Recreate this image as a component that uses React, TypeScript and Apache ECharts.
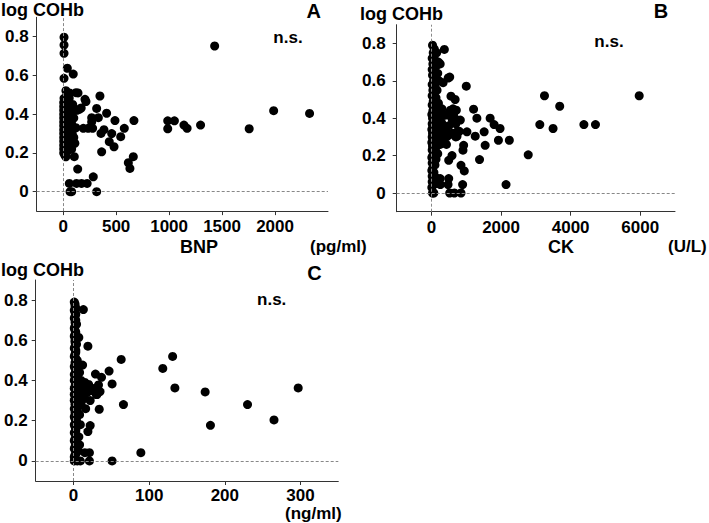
import React, { useEffect, useRef } from "react";
import * as echarts from "echarts";

// Panel A: BNP (pg/ml) vs log COHb
const bnpData: number[][] = [
  [8, 0.797], [8, 0.757], [8, 0.714], [39, 0.637], [95, 0.607], [8, 0.585],
  [26, 0.521], [60, 0.51], [121, 0.511], [140, 0.51], [8, 0.482], [57, 0.482],
  [206, 0.477], [215, 0.465], [347, 0.494], [152, 0.425], [170, 0.432], [316, 0.43],
  [410, 0.405], [269, 0.382], [332, 0.382], [489, 0.367], [668, 0.367], [269, 0.36],
  [190, 0.327], [236, 0.327], [278, 0.327], [357, 0.301], [458, 0.3], [385, 0.32],
  [577, 0.327], [435, 0.258], [480, 0.232], [543, 0.284], [363, 0.206], [662, 0.181],
  [615, 0.15], [630, 0.12], [105, 0.181], [137, 0.117], [284, 0.077], [58, 0.043],
  [126, 0.043], [173, 0.043], [226, 0.043], [80, 0], [65, 0], [316, 0],
  [5, 0.46], [5, 0.44], [5, 0.42], [5, 0.4], [5, 0.38], [5, 0.36], [5, 0.34],
  [5, 0.32], [5, 0.3], [5, 0.28], [5, 0.26], [5, 0.24], [5, 0.22], [5, 0.2],
  [25, 0.45], [40, 0.43], [20, 0.41], [55, 0.4], [85, 0.39], [30, 0.38],
  [60, 0.37], [100, 0.38], [20, 0.36], [45, 0.35], [80, 0.35], [30, 0.34],
  [60, 0.33], [120, 0.33], [20, 0.32], [45, 0.31], [85, 0.3], [25, 0.3],
  [60, 0.29], [100, 0.28], [20, 0.28], [40, 0.27], [75, 0.26], [30, 0.25],
  [110, 0.25], [55, 0.24], [20, 0.23], [80, 0.22], [40, 0.21], [15, 0.19],
  [25, 0.18], [70, 0.23], [110, 0.42], [130, 0.42], [90, 0.45],
  [1430, 0.752], [987, 0.366], [1050, 0.366], [987, 0.325], [1140, 0.344],
  [1170, 0.327], [1297, 0.344], [1756, 0.325], [1987, 0.418], [2326, 0.404],
];

// Panel B: CK (U/L) vs log COHb
const ckData: number[][] = [
  [30, 0.79], [80, 0.77], [50, 0.75], [150, 0.75], [370, 0.768], [20, 0.72],
  [100, 0.71], [200, 0.7], [40, 0.69], [140, 0.68], [250, 0.69], [20, 0.66],
  [90, 0.65], [180, 0.64], [30, 0.63], [120, 0.62], [524, 0.62], [480, 0.615],
  [60, 0.6], [220, 0.6], [333, 0.59], [20, 0.58], [100, 0.57], [1000, 0.571],
  [40, 0.55], [160, 0.55], [80, 0.53], [20, 0.52], [560, 0.518], [130, 0.51],
  [680, 0.5], [50, 0.49], [200, 0.48], [20, 0.47], [100, 0.46], [620, 0.45],
  [160, 0.45], [1210, 0.448], [40, 0.44], [714, 0.443], [543, 0.443], [250, 0.43],
  [400, 0.416], [10, 0.42], [80, 0.41], [638, 0.407], [140, 0.4], [30, 0.4],
  [1305, 0.4], [1686, 0.4], [200, 0.39], [829, 0.39], [60, 0.38], [20, 0.37],
  [110, 0.37], [300, 0.37], [1800, 0.366], [40, 0.36], [170, 0.35], [1971, 0.345],
  [10, 0.34], [80, 0.34], [240, 0.33], [733, 0.327], [1019, 0.327], [1514, 0.327],
  [30, 0.32], [130, 0.32], [60, 0.31], [733, 0.304], [1257, 0.304], [430, 0.3],
  [20, 0.3], [190, 0.3], [100, 0.29], [1924, 0.282], [2238, 0.282], [40, 0.28],
  [10, 0.27], [150, 0.27], [70, 0.26], [430, 0.26], [924, 0.255], [1543, 0.255],
  [250, 0.26], [30, 0.25], [120, 0.24], [905, 0.229], [20, 0.23], [80, 0.22],
  [180, 0.21], [2781, 0.204], [590, 0.2], [40, 0.2], [10, 0.19], [1381, 0.179],
  [495, 0.175], [130, 0.18], [60, 0.17], [20, 0.16], [100, 0.15], [848, 0.148],
  [30, 0.13], [10, 0.12], [943, 0.118], [70, 0.11], [20, 0.09], [50, 0.08],
  [150, 0.08], [250, 0.077], [495, 0.077], [20, 0.06], [120, 0.05], [200, 0.05],
  [257, 0.045], [476, 0.045], [895, 0.045], [2143, 0.045], [10, 0.03], [30, 0],
  [67, 0], [524, 0], [657, 0], [848, 0],
  [300, 0.45], [350, 0.42], [280, 0.38], [320, 0.35], [400, 0.33], [350, 0.3],
  [450, 0.31], [300, 0.28], [500, 0.36], [550, 0.41], [600, 0.39], [650, 0.43],
  [700, 0.37], [750, 0.39], [800, 0.33], [500, 0.31], [600, 0.32], [700, 0.3],
  [3248, 0.52], [3686, 0.464], [3114, 0.366], [3495, 0.345], [4381, 0.366],
  [4714, 0.366], [5971, 0.52],
];

// Panel C: third marker (ng/ml) vs log COHb
const ngData: number[][] = [
  [1, 0.79], [2, 0.77], [1, 0.75], [13, 0.753], [3, 0.73], [1, 0.71], [2, 0.69],
  [4, 0.68], [1, 0.66], [3, 0.64], [1, 0.62], [7, 0.614], [2, 0.6], [4, 0.58],
  [19, 0.571], [1, 0.56], [3, 0.54], [1, 0.52], [5, 0.5], [2, 0.49], [12, 0.477],
  [1, 0.47], [4, 0.45], [8, 0.44], [1, 0.43], [3, 0.42], [6, 0.41], [10, 0.4],
  [1, 0.4], [15, 0.39], [3, 0.38], [20, 0.38], [7, 0.37], [1, 0.36], [12, 0.36],
  [25, 0.35], [4, 0.34], [18, 0.34], [1, 0.33], [9, 0.33], [30, 0.33], [3, 0.32],
  [14, 0.31], [1, 0.3], [6, 0.3], [22, 0.3], [2, 0.28], [10, 0.28], [1, 0.26],
  [5, 0.25], [16, 0.26], [2, 0.24], [8, 0.23], [1, 0.22], [4, 0.2], [1, 0.18],
  [9, 0.18], [3, 0.16], [1, 0.14], [5, 0.12], [1, 0.1], [3, 0.08], [8, 0.08],
  [1, 0.06], [4, 0.04], [1, 0.02], [1, 0], [5, 0], [9, 0],
  [2, 0.78], [3, 0.76], [2, 0.74], [2, 0.72], [3, 0.7], [2, 0.67], [2, 0.65],
  [2, 0.63], [3, 0.61], [2, 0.59], [2, 0.57], [3, 0.55], [2, 0.53], [3, 0.51],
  [3, 0.48], [2, 0.46], [3, 0.44], [5, 0.43], [2, 0.41], [3, 0.39], [2, 0.37],
  [3, 0.35], [2, 0.31], [3, 0.29], [3, 0.27], [3, 0.23], [2, 0.21], [3, 0.19],
  [2, 0.17], [3, 0.15], [3, 0.13], [2, 0.11], [3, 0.09], [2, 0.07], [3, 0.05],
  [2, 0.03], [3, 0.01], [7, 0.12], [6, 0.05],
  [47, 0.447], [51, 0.383], [37, 0.416], [29, 0.432], [33, 0.378], [27, 0.36],
  [35, 0.345], [31, 0.33], [34, 0.257], [22, 0.176], [19, 0.146], [21, 0.041],
  [15, 0.041], [21, 0], [51, 0], [89, 0.041], [63, 0.505], [66, 0.28],
  [118, 0.46], [131, 0.52], [134, 0.363], [174, 0.343], [181, 0.177],
  [230, 0.28], [265, 0.204], [297, 0.363],
];

const yTicks = [0, 0.2, 0.4, 0.6, 0.8];
const bnpTicks = [0, 500, 1000, 1500, 2000];
const ckTicks = [0, 2000, 4000, 6000];
const ngTicks = [0, 100, 200, 300];

const FONT = '"Liberation Sans", Arial, sans-serif';

export default function App() {
  const ref = useRef<HTMLDivElement>(null);
  useEffect(() => {
    if (!ref.current) return;
    const chart = echarts.init(ref.current, null, { renderer: "svg" });
    const grids = [
      { left: 36.7, top: 17.3, width: 291.3, height: 193.8 },
      { left: 396.7, top: 24.7, width: 278.3, height: 187 },
      { left: 35.7, top: 280, width: 302.6, height: 201 },
    ];
    const xDefs = [
      { min: -250, max: 2500, ticks: bnpTicks },
      { min: -1000, max: 7000, ticks: ckTicks },
      { min: -50, max: 350, ticks: ngTicks },
    ];
    const yMargins = [8, 11, 8];
    const xMargins = [7, 7, 6];
    const axisLineStyle = { color: "#333", width: 1 };
    const xAxis = xDefs.map((d, i) => ({
      type: "value",
      gridIndex: i,
      min: d.min,
      max: d.max,
      axisLine: { show: true, onZero: false, lineStyle: axisLineStyle },
      axisTick: { show: true, length: 4, customValues: d.ticks, lineStyle: axisLineStyle },
      axisLabel: {
        customValues: d.ticks,
        margin: xMargins[i],
        fontFamily: FONT,
        fontWeight: "bold",
        fontSize: 17,
        color: "#000",
        formatter: (v: number) => String(Math.round(v)),
      },
      splitLine: { show: false },
    }));
    const yAxis = [0, 1, 2].map((i) => ({
      type: "value",
      gridIndex: i,
      min: -0.1,
      max: 0.9,
      axisLine: { show: true, onZero: false, lineStyle: axisLineStyle },
      axisTick: { show: true, length: 4, customValues: yTicks, lineStyle: axisLineStyle },
      axisLabel: {
        customValues: yTicks,
        margin: yMargins[i],
        fontFamily: FONT,
        fontWeight: "bold",
        fontSize: 17,
        color: "#000",
        formatter: (v: number) => (Math.abs(v) < 1e-9 ? "0" : v.toFixed(1)),
      },
      splitLine: { show: false },
    }));
    const datasets = [bnpData, ckData, ngData];
    const series = datasets.map((data, i) => ({
      type: "scatter",
      xAxisIndex: i,
      yAxisIndex: i,
      data,
      symbol: "circle",
      symbolSize: 9,
      itemStyle: { color: "#000", opacity: 1 },
      markLine: {
        silent: true,
        symbol: "none",
        label: { show: false },
        lineStyle: { color: "#888", type: [3, 2], width: 1 },
        data: [{ xAxis: 0 }, { yAxis: 0 }],
      },
    }));
    const txt = (
      text: string,
      x: number,
      y: number,
      size: number,
      align: string = "left"
    ) => ({
      type: "text",
      x,
      y,
      style: {
        text,
        font: `bold ${size}px ${FONT}`,
        fill: "#000",
        align,
        verticalAlign: "middle",
      },
    });
    chart.setOption({
      animation: false,
      backgroundColor: "#fff",
      grid: grids,
      xAxis,
      yAxis,
      series,
      graphic: [
        txt("log COHb", 1, 9.5, 18),
        txt("A", 313.7, 11, 20, "center"),
        txt("n.s.", 288, 37.5, 17, "center"),
        txt("BNP", 199, 246.5, 18, "center"),
        txt("(pg/ml)", 310, 246, 17),
        txt("log COHb", 360, 14, 18),
        txt("B", 661, 11, 20, "center"),
        txt("n.s.", 609, 41, 17, "center"),
        txt("CK", 561, 246.5, 18, "center"),
        txt("(U/L)", 668, 246.5, 17),
        txt("log COHb", 1, 270, 18),
        txt("C", 314.5, 273.3, 20, "center"),
        txt("n.s.", 271.7, 299.5, 17, "center"),
        txt("(ng/ml)", 285, 513, 17),
      ],
    });
    return () => chart.dispose();
  }, []);
  return (
    <div
      ref={ref}
      style={{ position: "fixed", left: 0, top: 0, width: 709, height: 523, background: "#fff" }}
    />
  );
}
